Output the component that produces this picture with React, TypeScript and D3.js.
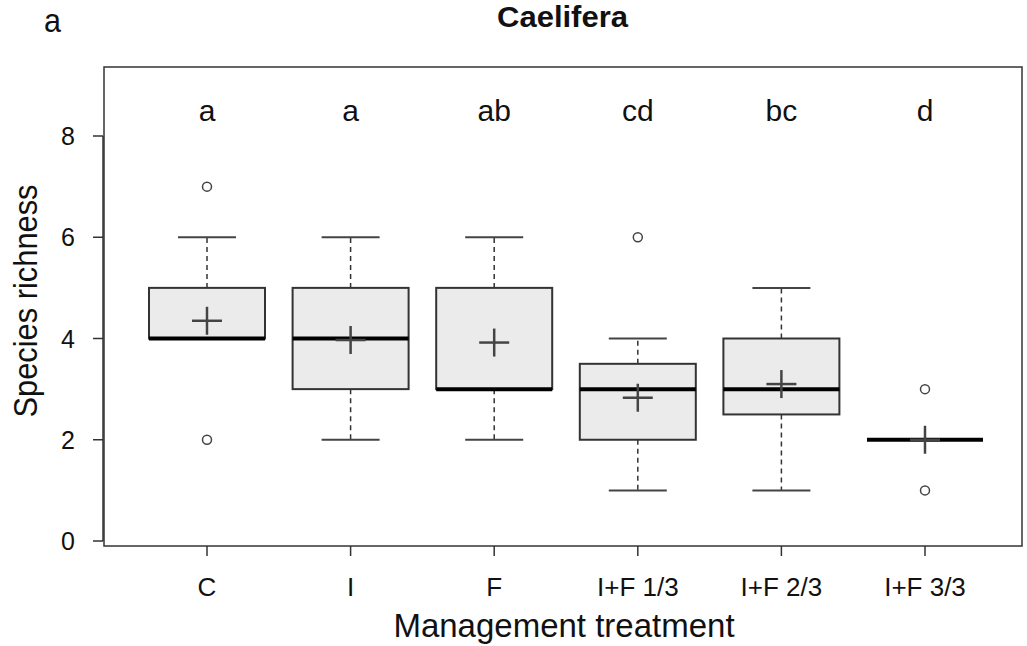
import React from 'react';
import * as d3 from 'd3';

const width = 1027;
const height = 646;
const plot = {left: 104, right: 1022, top: 67, bottom: 546};

const groups = ['C', 'I', 'F', 'I+F 1/3', 'I+F 2/3', 'I+F 3/3'];
const letters = ['a', 'a', 'ab', 'cd', 'bc', 'd'];
const q1 = [4, 3, 3, 2, 2.5, 2];
const medians = [4, 4, 3, 3, 3, 2];
const q3 = [5, 5, 5, 3.5, 4, 2];
const whiskLow = [4, 2, 2, 1, 1, 2];
const whiskHigh = [6, 6, 6, 4, 5, 2];
const means = [4.35, 3.97, 3.92, 2.83, 3.1, 2.0];
const outliers = [[7, 2], [], [], [6], [], [3, 1]];
const yTicks = [0, 2, 4, 6, 8];

const font = 'Liberation Sans, Arial, sans-serif';

export default function App() {
  const x = d3.scalePoint<string>().domain(groups).range([207, 925]);
  const y = d3.scaleLinear().domain([0, 8]).range([541, 136]);
  const boxHalf = 58;
  const capHalf = 29;

  return (
    <svg width={width} height={height} style={{position: 'absolute', left: 0, top: 0}}>
      <rect x={0} y={0} width={width} height={height} fill="#fff" />
      <text x={44} y={32} fontFamily={font} fontSize={34} textLength={17} lengthAdjust="spacingAndGlyphs" fill="#111">a</text>
      <text x={497} y={27} fontFamily={font} fontSize={29} fontWeight="bold" textLength={131}
        lengthAdjust="spacingAndGlyphs" fill="#111">Caelifera</text>

      {groups.map((g, i) => {
        const cx = x(g)!;
        return (
          <g key={g}>
            {whiskHigh[i] > q3[i] && (
              <line x1={cx} x2={cx} y1={y(q3[i])} y2={y(whiskHigh[i])} stroke="#333" strokeWidth={1.5} strokeDasharray="5,4" />
            )}
            {whiskLow[i] < q1[i] && (
              <line x1={cx} x2={cx} y1={y(q1[i])} y2={y(whiskLow[i])} stroke="#333" strokeWidth={1.5} strokeDasharray="5,4" />
            )}
            {whiskHigh[i] > q3[i] && (
              <line x1={cx - capHalf} x2={cx + capHalf} y1={y(whiskHigh[i])} y2={y(whiskHigh[i])} stroke="#444" strokeWidth={2} />
            )}
            {whiskLow[i] < q1[i] && (
              <line x1={cx - capHalf} x2={cx + capHalf} y1={y(whiskLow[i])} y2={y(whiskLow[i])} stroke="#444" strokeWidth={2} />
            )}
            <rect x={cx - boxHalf} width={boxHalf * 2} y={y(q3[i])} height={y(q1[i]) - y(q3[i])}
              fill="#ebebeb" stroke="#333" strokeWidth={2} />
            <line x1={cx - boxHalf} x2={cx + boxHalf} y1={y(medians[i])} y2={y(medians[i])} stroke="#000" strokeWidth={4} />
            <line x1={cx - 15} x2={cx + 15} y1={y(means[i])} y2={y(means[i])} stroke="#444" strokeWidth={2.5} />
            <line x1={cx} x2={cx} y1={y(means[i]) - 14} y2={y(means[i]) + 14} stroke="#444" strokeWidth={2.5} />
            {outliers[i].map((o, j) => (
              <circle key={j} cx={cx} cy={y(o)} r={4.5} fill="#fff" stroke="#444" strokeWidth={1.5} />
            ))}
            <text x={cx} y={121} fontFamily={font} fontSize={30} textAnchor="middle" fill="#111">{letters[i]}</text>
          </g>
        );
      })}

      <rect x={plot.left} y={plot.top} width={plot.right - plot.left} height={plot.bottom - plot.top}
        fill="none" stroke="#333" strokeWidth={1.5} />

      {/* y axis */}
      <line x1={plot.left - 1} x2={plot.left - 1} y1={y(8)} y2={y(0)} stroke="#333" strokeWidth={1.5} />
      {yTicks.map(t => (
        <g key={t}>
          <line x1={plot.left - 11} x2={plot.left - 1} y1={y(t)} y2={y(t)} stroke="#333" strokeWidth={1.5} />
          <text x={68} y={y(t) + 9} fontFamily={font} fontSize={25} textAnchor="middle" fill="#111">{t}</text>
        </g>
      ))}
      <text transform={`translate(37, 301) rotate(-90)`} fontFamily={font} fontSize={33}
        textAnchor="middle" textLength={233} lengthAdjust="spacingAndGlyphs" fill="#111">Species richness</text>

      {/* x axis */}
      {groups.map(g => (
        <g key={g}>
          <line x1={x(g)!} x2={x(g)!} y1={plot.bottom} y2={plot.bottom + 10} stroke="#333" strokeWidth={1.5} />
          <text x={x(g)!} y={596} fontFamily={font} fontSize={26} textAnchor="middle" fill="#111">{g}</text>
        </g>
      ))}
      <text x={564} y={637} fontFamily={font} fontSize={33} textAnchor="middle" fill="#111">Management treatment</text>
    </svg>
  );
}
